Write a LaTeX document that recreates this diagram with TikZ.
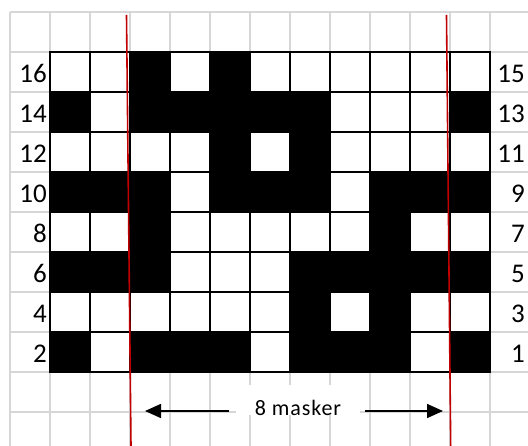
\documentclass[tikz,border=0pt]{standalone}
\usepackage{fontspec}
\setmainfont{Carlito}
\usetikzlibrary{arrows.meta}
\definecolor{gridgray}{RGB}{214,214,214}
\definecolor{redln}{RGB}{192,0,0}
\definecolor{c0}{RGB}{255,255,255}
\definecolor{c1}{RGB}{0,0,0}
\begin{document}
\begin{tikzpicture}[x=1pt,y=-1pt,
  gridline/.style={draw=gridgray,line width=1.6pt},
  cellbox/.style={draw=black,line width=2pt,minimum size=40pt,inner sep=0pt,outer sep=0pt},
  numlabel/.style={font=\fontsize{27pt}{27pt}\selectfont,inner sep=0pt,anchor=base east},
  maskbox/.style={fill=white,draw=none,minimum width=124pt,minimum height=30pt,inner sep=0pt},
  masktext/.style={font=\fontsize{22pt}{22pt}\selectfont\addfontfeature{LetterSpace=4},inner sep=0pt,anchor=base},
  arr/.style={draw=black,line width=1.6pt,-{Triangle[length=16pt,width=14pt]}},
  redline/.style={draw=redln,line width=1.6pt}]
\useasboundingbox (0,0) rectangle (528,446);
\fill[white] (0,0) rectangle (528,446);
% background grid
\foreach \i in {0,...,13} \draw[gridline] (10+40*\i,12) -- (10+40*\i,446);
\foreach \j in {0,...,11} \draw[gridline] (10,12+40*\j) -- (528,12+40*\j);
% chart cells
\foreach \row [count=\r from 0] in {
  {0,0,1,0,1,0,0,0,0,0,0},
  {1,0,1,1,1,1,1,0,0,0,1},
  {0,0,0,0,1,0,1,0,0,0,0},
  {1,1,1,0,1,1,1,0,1,1,1},
  {0,0,1,0,0,0,0,0,1,0,0},
  {1,1,1,0,0,0,1,1,1,1,1},
  {0,0,0,0,0,0,1,0,1,0,0},
  {1,0,1,1,1,0,1,1,1,0,1}} {
  \foreach \v [count=\c from 0] in \row {
    \node[cellbox,fill=c\v] (cell-\r-\c) at (70+40*\c,72+40*\r) {};
  }
}
% row numbers
\foreach \t [count=\r from 0] in {16,14,12,10,8,6,4,2}
  \node[numlabel] (left-\r) at (47,83+40*\r) {\t};
\foreach \t [count=\r from 0] in {15,13,11,9,7,5,3,1}
  \node[numlabel] (right-\r) at (525,83+40*\r) {\t};
% label and arrows
\node[maskbox] (box) at (298,400) {};
\node[masktext] (lbl) at (298,416) {8 masker};
\coordinate (lstart) at (229,411);
\coordinate (ltip) at (145,411);
\coordinate (rstart) at (365,411);
\coordinate (rtip) at (443,411);
\draw[arr] (lstart) -- (ltip);
\draw[arr] (rstart) -- (rtip);
% red lines
\coordinate (r1a) at (126.5,15);
\coordinate (r1b) at (131,446);
\coordinate (r2a) at (446.5,15);
\coordinate (r2b) at (450.7,446);
\draw[redline] (r1a) -- (r1b);
\draw[redline] (r2a) -- (r2b);
\end{tikzpicture}
\end{document}
